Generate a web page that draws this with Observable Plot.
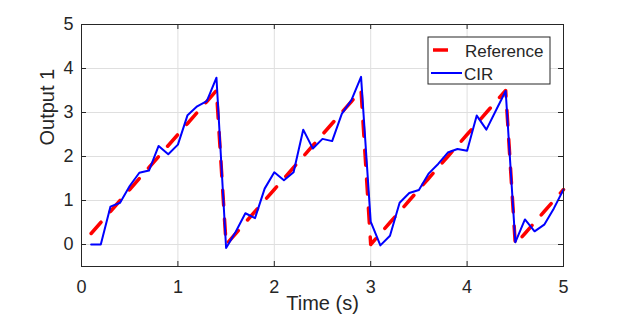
<!DOCTYPE html>
<html><head><meta charset="utf-8">
<script src="https://cdn.jsdelivr.net/npm/d3@7"></script>
<script src="https://cdn.jsdelivr.net/npm/@observablehq/plot@0.6"></script>
<style>
html,body{margin:0;padding:0;background:#fff;}
#chart{position:relative;width:623px;height:327px;}
</style></head><body><div id="chart"></div>
<script>
const time = [0.1,0.2,0.3,0.4,0.5,0.6,0.7,0.8,0.9,1.0,1.1,1.2,1.3,1.4,1.5,1.6,1.7,1.8,1.9,2.0,2.1,2.2,2.3,2.4,2.5,2.6,2.7,2.8,2.9,3.0,3.1,3.2,3.3,3.4,3.5,3.6,3.7,3.8,3.9,4.0,4.1,4.2,4.3,4.4,4.5,4.6,4.7,4.8,4.9,5.0];
const reference = [0.25,0.5,0.75,1,1.25,1.5,1.75,2,2.25,2.5,2.75,3,3.25,3.5,
  0,0.25,0.5,0.75,1,1.25,1.5,1.75,2,2.25,2.5,2.75,3,3.25,3.5,
  0,0.25,0.5,0.75,1,1.25,1.5,1.75,2,2.25,2.5,2.75,3,3.25,3.5,
  0,0.25,0.5,0.75,1,1.25];
const cir = [0,0,0.86,0.95,1.33,1.63,1.68,2.24,2.05,2.27,2.94,3.14,3.26,3.79,
  -0.08,0.29,0.71,0.60,1.27,1.64,1.46,1.64,2.61,2.18,2.40,2.35,2.97,3.28,3.81,
  0.52,-0.02,0.20,0.95,1.17,1.24,1.61,1.83,2.09,2.17,2.13,2.93,2.61,3.05,3.49,
  0.05,0.57,0.30,0.45,0.82,1.25];
const xTicks = [0,1,2,3,4,5];
const yTicks = [0,1,2,3,4,5];
const xDomain = [0,5];
const yDomain = [-0.5,5];
const seriesNames = ["Reference","CIR"];
const xLabel = "Time (s)";
const yLabel = "Output 1";

const refData = time.map((t,i)=>({t, v: reference[i]}));
const cirData = time.map((t,i)=>({t, v: cir[i]}));

const font = "'Liberation Sans', Arial, Helvetica, sans-serif";
const axisColor = "#262626";
const chart = Plot.plot({
  width: 623, height: 327,
  marginLeft: 81, marginRight: 60, marginTop: 24, marginBottom: 61,
  style: {fontFamily: font, background: "white", color: axisColor, overflow: "visible"},
  x: {domain: xDomain},
  y: {domain: yDomain},
  marks: [
    Plot.gridX(xTicks, {stroke: "#dfdfdf", strokeOpacity: 1}),
    Plot.gridY(yTicks, {stroke: "#dfdfdf", strokeOpacity: 1}),
    Plot.line(refData, {x:"t", y:"v", stroke:"#ff0000", strokeWidth:3.5, strokeDasharray:"15,14"}),
    Plot.line(cirData, {x:"t", y:"v", stroke:"#0000ff", strokeWidth:2}),
    Plot.frame({stroke: axisColor, strokeWidth: 1}),
    // inward tick marks on all four sides
    Plot.ruleX(xTicks, {y1: yDomain[0], y2: yDomain[0], insetTop: -5, stroke: axisColor}),
    Plot.ruleX(xTicks, {y1: yDomain[1], y2: yDomain[1], insetBottom: -5, stroke: axisColor}),
    Plot.ruleY(yTicks, {x1: xDomain[0], x2: xDomain[0], insetRight: -5, stroke: axisColor}),
    Plot.ruleY(yTicks, {x1: xDomain[1], x2: xDomain[1], insetLeft: -5, stroke: axisColor}),
    Plot.axisX(xTicks, {anchor:"bottom", tickSize:0, tickPadding:14, fontSize:18, label:null}),
    Plot.axisY(yTicks, {anchor:"left", tickSize:0, tickPadding:8, fontSize:18, label:null}),
    Plot.text([xLabel], {frameAnchor:"bottom", lineAnchor:"top", dy:29, fontSize:20, fill: axisColor}),
    Plot.text([yLabel], {frameAnchor:"left", rotate:-90, dx:-34, fontSize:20, fill: axisColor})
  ]
});
document.getElementById("chart").appendChild(chart);

// Legend
const svg = d3.select(chart);
const g = svg.append("g").attr("font-family", font).attr("font-size", 17).attr("fill", axisColor)
  .attr("text-anchor", "start");
g.append("rect").attr("x", 428).attr("y", 37).attr("width", 122).attr("height", 47)
  .attr("fill", "white").attr("stroke", axisColor).attr("stroke-width", 1);
g.append("line").attr("x1", 433).attr("x2", 448).attr("y1", 50).attr("y2", 50)
  .attr("stroke", "#ff0000").attr("stroke-width", 3.5);
g.append("line").attr("x1", 431).attr("x2", 462).attr("y1", 73).attr("y2", 73)
  .attr("stroke", "#0000ff").attr("stroke-width", 2);
g.append("text").attr("x", 465).attr("y", 57).attr("text-anchor", "start").text(seriesNames[0]);
g.append("text").attr("x", 464).attr("y", 80).attr("text-anchor", "start").text(seriesNames[1]);
</script></body></html>
